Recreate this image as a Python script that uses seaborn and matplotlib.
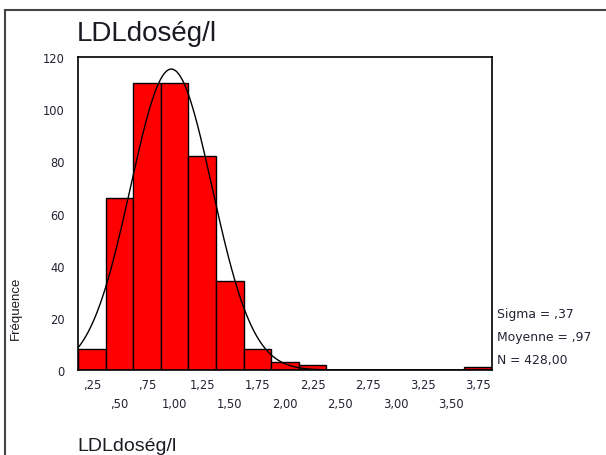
import seaborn as sns
import matplotlib.pyplot as plt
import matplotlib.patches as patches
import numpy as np
import pandas as pd

# histogram data (bin centres, width 0.25)
bin_centers = [0.25, 0.50, 0.75, 1.00, 1.25, 1.50, 1.75, 2.00, 2.25, 2.50,
               2.75, 3.00, 3.25, 3.50, 3.75]
counts = [8, 66, 110, 110, 82, 34, 8, 3, 2, 0, 0, 0, 0, 0, 1]
sigma = 0.37
moyenne = 0.97
n_total = 428
bin_width = 0.25

tick_vals = [0.25, 0.50, 0.75, 1.00, 1.25, 1.50, 1.75, 2.00, 2.25, 2.50,
             2.75, 3.00, 3.25, 3.50, 3.75]
tick_text = [",25", ",50", ",75", "1,00", "1,25", "1,50", "1,75", "2,00",
             "2,25", "2,50", "2,75", "3,00", "3,25", "3,50", "3,75"]
y_ticks = [0, 20, 40, 60, 80, 100, 120]

sns.set_style("white")
plt.rcParams['font.family'] = ['Liberation Sans', 'DejaVu Sans']

fig = plt.figure(figsize=(6.06, 4.56), dpi=100, facecolor="w")
ax = fig.add_axes([0.1287, 0.1864, 0.6832, 0.6864])

df = pd.DataFrame({"ldl": bin_centers, "n": counts})
lo = bin_centers[0] - bin_width / 2
hi = bin_centers[-1] + bin_width / 2
sns.histplot(data=df, x="ldl", weights="n", binwidth=bin_width, binrange=(lo, hi),
             color="#ff0000", edgecolor="k", linewidth=1, alpha=1, ax=ax)

# normal curve with the stated mean and sigma
xs = np.linspace(lo, hi, 400)
ys = n_total * bin_width / (sigma * np.sqrt(2 * np.pi)) * np.exp(-0.5 * ((xs - moyenne) / sigma) ** 2)
sns.lineplot(x=xs, y=ys, color="k", lw=1, ax=ax)

small = dict(family="DejaVu Sans", fontsize=8.3, color="#222233")

ax.set_xlim(lo, hi)
ax.set_ylim(0, 120)
ax.set_xticks(tick_vals)
ax.set_xticklabels(tick_text, **small)
ax.set_yticks(y_ticks)
ax.set_yticklabels([str(v) for v in y_ticks], **small)
ax.tick_params(which='major', direction='out', length=2.5, width=1.5, color="k")
ax.tick_params(axis='x', pad=3)
ax.tick_params(axis='y', pad=7)
# staggered x labels: every second one on a lower row
for t in ax.xaxis.get_major_ticks()[1::2]:
    t.set_pad(17)
for spine in ax.spines.values():
    spine.set_visible(True)
    spine.set_color("k")
    spine.set_linewidth(1.2)
ax.set_xlabel("")
ax.set_ylabel("")

fig.text(0.127, 1 - 41 / 456, "LDLdoség/l", fontsize=20, ha="left", va="baseline",
         color="#1a1a22")
fig.text(0.127, 1 - 451 / 456, "LDLdoség/l", fontsize=14, ha="left", va="baseline",
         color="#1a1a22")
fig.text(0.027, 1 - 308 / 456, "Fréquence", fontsize=9.5, rotation=90, ha="center",
         va="center", color="#1a1a22")

stats = ["Sigma = ,37", "Moyenne = ,97", "N = 428,00"]
for i, s in enumerate(stats):
    fig.text(0.820, 1 - (315 + 23 * i) / 456, s, ha="left", va="center",
             family="DejaVu Sans", fontsize=8.9, color="#222233")

frame = patches.Rectangle((0.008, -0.1), 1.2, 1.076, transform=fig.transFigure,
                          fill=False, edgecolor="#444444", linewidth=1.5, clip_on=False)
fig.add_artist(frame)

fig.savefig("out.png", dpi=100)
